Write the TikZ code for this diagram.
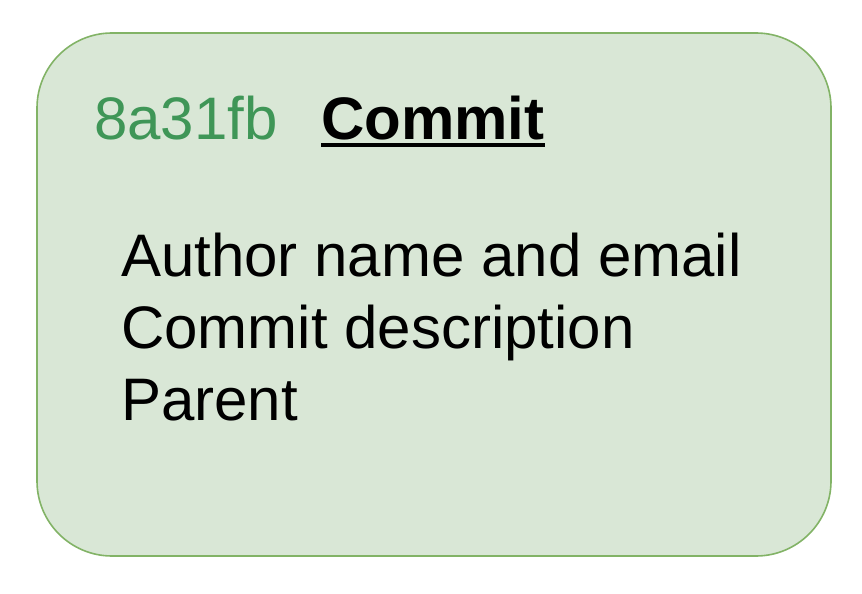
\documentclass[tikz,border=0pt]{standalone}
\usepackage{fontspec}
\setmainfont{Liberation Sans}
\definecolor{boxfill}{HTML}{D9E7D6}
\definecolor{boxline}{HTML}{82B366}
\definecolor{hashgreen}{HTML}{3F9657}
\tikzset{
  commitbox/.style={draw=boxline, fill=boxfill, line width=1.6pt, rounded corners=75pt},
  bigtext/.style={font=\fontsize{60}{72}\selectfont, inner sep=0pt, anchor=base west},
}
\begin{document}
\begin{tikzpicture}[x=1pt,y=-1pt]
\useasboundingbox (0,0) rectangle (862,594);
\draw[commitbox] (37,33) rectangle (831,556);
\node[bigtext, text=hashgreen] (hash) at (94,139) {8a31fb};
\node[bigtext] (title) at (321,139) {\textbf{Commit}};
\draw[line width=4pt] ([yshift=-6pt]title.base west) coordinate (ul1) -- ([yshift=-6pt]title.base east) coordinate (ul2);
\node[bigtext] (l1) at (121,276) {Author name and email};
\node[bigtext] (l2) at (121,348) {Commit description};
\node[bigtext] (l3) at (121,420) {Parent};
\end{tikzpicture}
\end{document}
